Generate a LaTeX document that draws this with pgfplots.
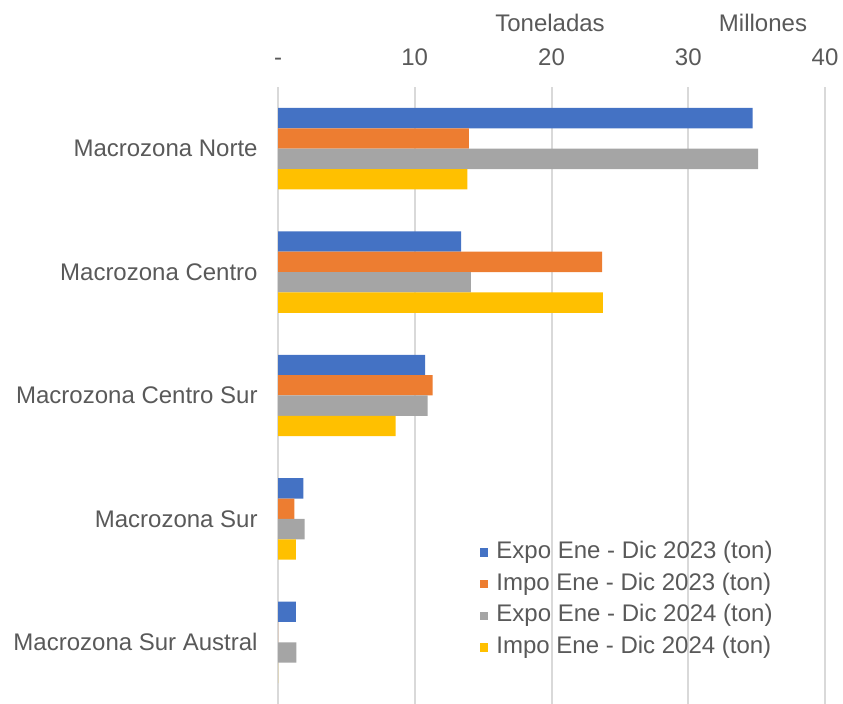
\documentclass[border=0pt]{standalone}
\usepackage{pgfplots}
\pgfplotsset{compat=1.18}
\usepackage{fontspec}
\setmainfont{Liberation Sans}
\definecolor{cblue}{HTML}{4472C4}
\definecolor{corange}{HTML}{ED7D31}
\definecolor{cgray}{HTML}{A5A5A5}
\definecolor{cyellow}{HTML}{FFC000}
\definecolor{txt}{HTML}{595959}
\definecolor{gridc}{HTML}{D9D9D9}
\begin{document}
\begin{tikzpicture}
\begin{axis}[
  name=ax,
  xbar,
  scale only axis,
  width=273.5pt, height=308.5pt,
  xmin=0, xmax=40, ymin=-0.5, ymax=4.5,
  axis line style={draw=none},
  xtick={0,10,20,30,40}, xticklabels={-,10,20,30,40},
  xticklabel pos=upper,
  ytick={0,1,2,3,4},
  yticklabels={Macrozona Sur Austral,Macrozona Sur,Macrozona Centro Sur,Macrozona Centro,Macrozona Norte},
  major tick length=0pt,
  xmajorgrids,
  major grid style={gridc, line width=1pt},
  xticklabel style={font=\fontsize{12}{14}\selectfont, text=txt, anchor=base, inner sep=0pt, yshift=10.5pt},
  yticklabel style={font=\fontsize{12}{14}\selectfont, text=txt, anchor=east, inner sep=0pt, xshift=-10pt},
  bar width=0.165,
  legend style={at={(0.357,0.272)}, anchor=north west, draw=none, fill=none,
    font=\fontsize{12}{14}\selectfont, text=txt, row sep=3.85pt, column sep=4.2pt,
    nodes={inner sep=0pt, text height=9pt, text depth=3pt}},
  legend cell align=left,
  legend image code/.code={\fill[#1,draw=none] (0pt,-2.1pt) rectangle (4.2pt,2.1pt);},
]
\addplot[fill=cblue, draw=none, bar shift=0.2475] coordinates {(34.7,4) (13.4,3) (10.75,2) (1.85,1) (1.3,0)};
\addlegendentry{Expo Ene - Dic 2023 (ton)}
\addplot[fill=corange, draw=none, bar shift=0.0825] coordinates {(13.95,4) (23.7,3) (11.3,2) (1.2,1) (0,0)};
\addlegendentry{Impo Ene - Dic 2023 (ton)}
\addplot[fill=cgray, draw=none, bar shift=-0.0825] coordinates {(35.1,4) (14.1,3) (10.95,2) (1.95,1) (1.35,0)};
\addlegendentry{Expo Ene - Dic 2024 (ton)}
\addplot[fill=cyellow, draw=none, bar shift=-0.2475] coordinates {(13.85,4) (23.75,3) (8.6,2) (1.3,1) (0,0)};
\addlegendentry{Impo Ene - Dic 2024 (ton)}
\end{axis}
\node[anchor=base, font=\fontsize{12}{14}\selectfont, text=txt] at ([xshift=136pt, yshift=27.5pt]ax.north west) {Toneladas};
\node[anchor=base, font=\fontsize{12}{14}\selectfont, text=txt] at ([xshift=242.5pt, yshift=27.5pt]ax.north west) {Millones};
\pgfresetboundingbox
\path ([xshift=-139pt]ax.south west) rectangle ([xshift=9pt, yshift=43.5pt]ax.north east);
\end{tikzpicture}
\end{document}
